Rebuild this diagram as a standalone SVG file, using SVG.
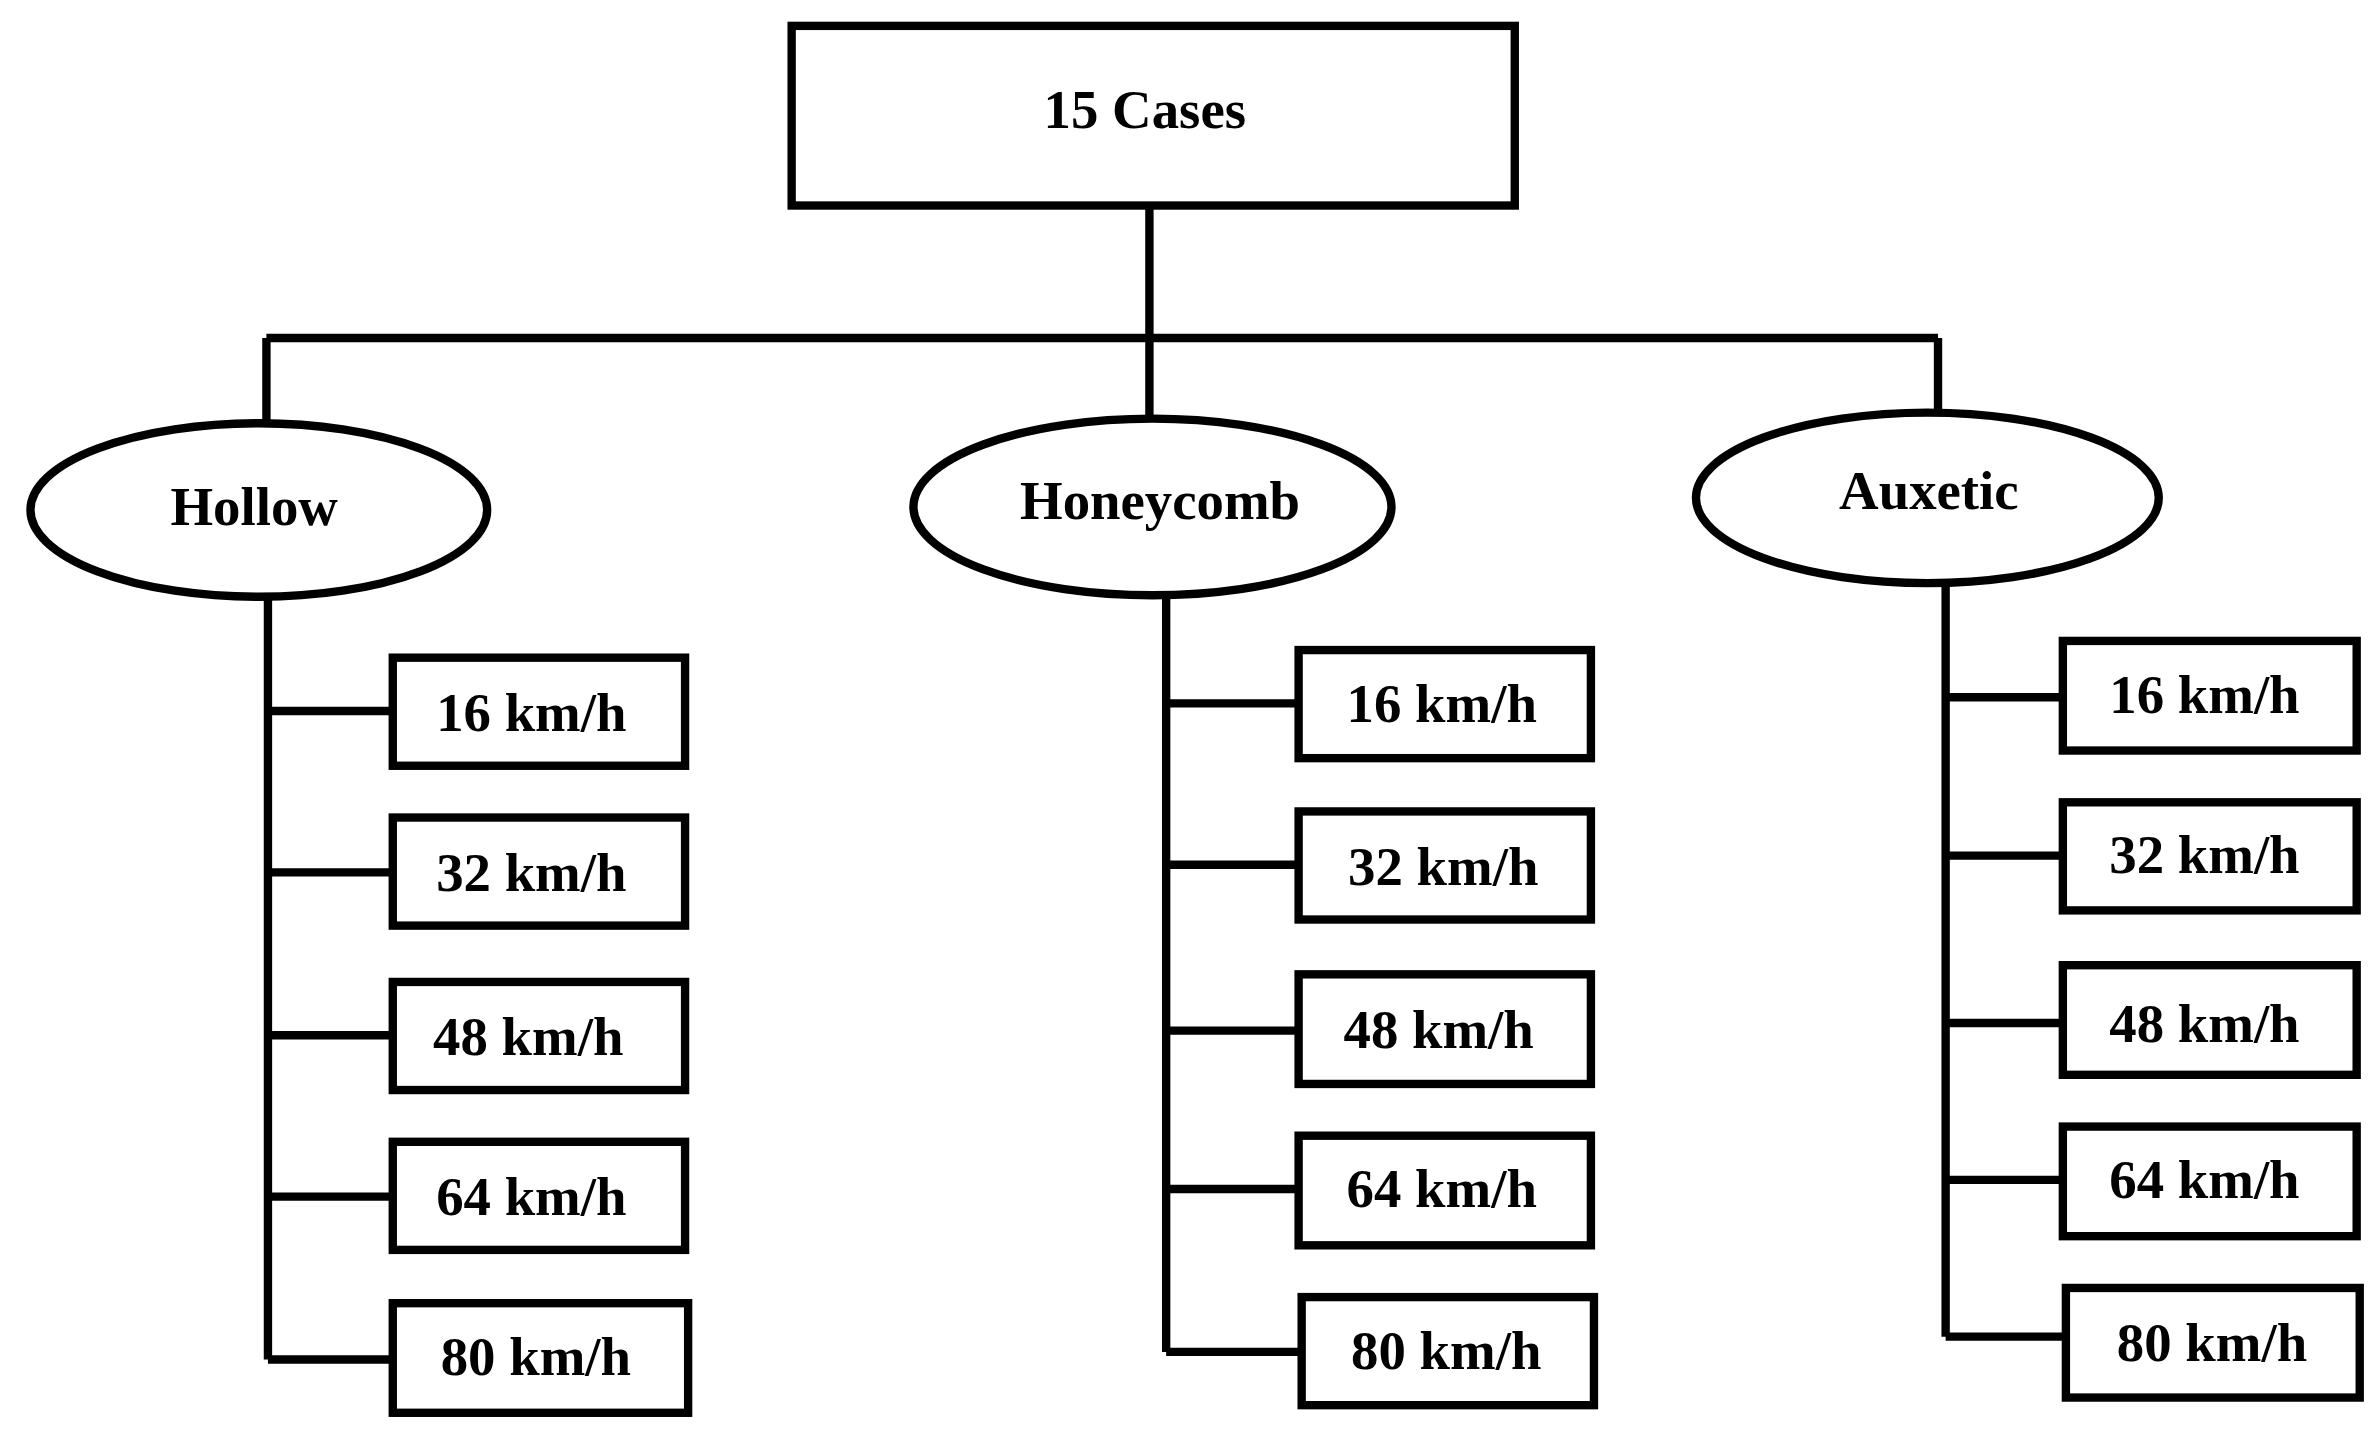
<svg xmlns="http://www.w3.org/2000/svg" width="2375" height="1430" viewBox="0 0 2375 1430">
<style>
.s{fill:#fff;stroke:#000;stroke-width:5.5}
.c{fill:none;stroke:#000;stroke-width:5.5}
text{font-family:"Liberation Serif",serif;font-weight:bold;font-size:36px;fill:#000;text-anchor:middle;dominant-baseline:central}
</style>
<rect width="2375" height="1430" fill="#fff"/>
<g transform="scale(1.5224)">
<g id="connectors">
<path class="c" d="M755 135V222M175 222H1273M175 222V278M755 222V275M1273 222V270"/>
<path class="c" d="M176 392V893M176 467H258M176 573H258M176 680H258M176 786H258M176 893H258"/>
<path class="c" d="M766 390V888M766 462H853M766 568H853M766 677H853M766 781H853M766 888H853"/>
<path class="c" d="M1278 383V878M1278 458H1355M1278 562H1355M1278 672H1355M1278 775H1355M1278 878H1355"/>
</g>
<g id="root"><rect class="s" x="520" y="17" width="475" height="118"/><text x="752" y="72">15 Cases</text></g>
<g id="hollow"><ellipse class="s" cx="170" cy="335" rx="150" ry="57"/><text x="167" y="333">Hollow</text></g>
<g id="honeycomb"><ellipse class="s" cx="757" cy="333" rx="157" ry="58"/><text x="762" y="329">Honeycomb</text></g>
<g id="auxetic"><ellipse class="s" cx="1266" cy="327" rx="152" ry="56"/><text x="1267" y="322">Auxetic</text></g>
<g id="h16"><rect class="s" x="258" y="432" width="192" height="71"/><text x="349" y="468">16 km/h</text></g>
<g id="h32"><rect class="s" x="258" y="537" width="192" height="71"/><text x="349" y="573">32 km/h</text></g>
<g id="h48"><rect class="s" x="258" y="645" width="192" height="71"/><text x="347" y="681">48 km/h</text></g>
<g id="h64"><rect class="s" x="258" y="750" width="192" height="71"/><text x="349" y="786">64 km/h</text></g>
<g id="h80"><rect class="s" x="258" y="856" width="194" height="72"/><text x="352" y="891">80 km/h</text></g>
<g id="c16"><rect class="s" x="853" y="427" width="192" height="71"/><text x="947" y="462">16 km/h</text></g>
<g id="c32"><rect class="s" x="853" y="533" width="192" height="71"/><text x="948" y="569">32 km/h</text></g>
<g id="c48"><rect class="s" x="853" y="640" width="192" height="72"/><text x="945" y="676">48 km/h</text></g>
<g id="c64"><rect class="s" x="853" y="746" width="192" height="72"/><text x="947" y="781">64 km/h</text></g>
<g id="c80"><rect class="s" x="855" y="852" width="192" height="71"/><text x="950" y="887">80 km/h</text></g>
<g id="a16"><rect class="s" x="1355" y="421" width="193" height="72"/><text x="1448" y="456">16 km/h</text></g>
<g id="a32"><rect class="s" x="1355" y="527" width="193" height="71"/><text x="1448" y="561">32 km/h</text></g>
<g id="a48"><rect class="s" x="1355" y="634" width="193" height="72"/><text x="1448" y="672">48 km/h</text></g>
<g id="a64"><rect class="s" x="1355" y="740" width="193" height="72"/><text x="1448" y="775">64 km/h</text></g>
<g id="a80"><rect class="s" x="1357" y="846" width="193" height="72"/><text x="1453" y="882">80 km/h</text></g>
</g>
</svg>
